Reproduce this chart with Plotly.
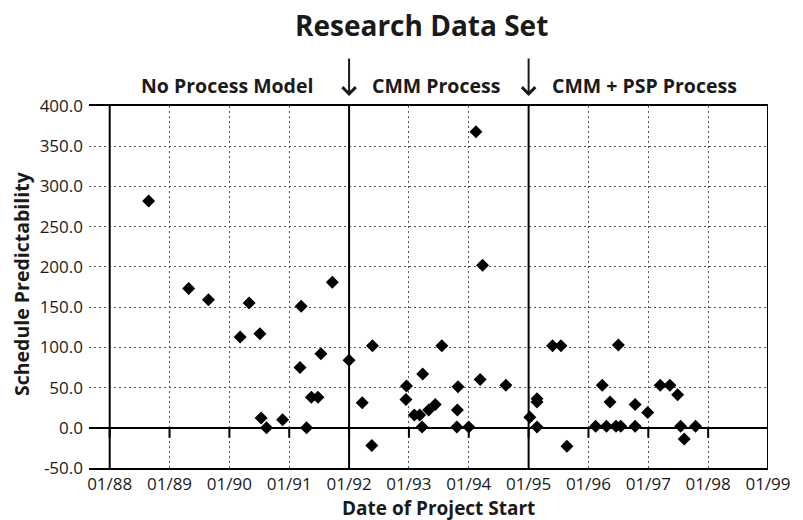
import plotly.graph_objects as go

# ---------------- data ----------------
no_process_x = [1988.65, 1989.32, 1989.65, 1990.18, 1990.33, 1990.51, 1990.53, 1990.62,
                1990.89, 1991.20, 1991.18, 1991.29, 1991.37, 1991.48, 1991.53, 1991.72]
no_process_y = [282, 173, 159, 113, 155, 117, 12, 0, 10, 151, 75, 0, 38, 38, 92, 181]

cmm_x = [1992.00, 1992.22, 1992.39, 1992.38, 1992.96, 1992.95, 1993.09, 1993.18, 1993.22,
         1993.23, 1993.33, 1993.44, 1993.55, 1993.81, 1993.82, 1993.80, 1994.00, 1994.12,
         1994.19, 1994.23, 1994.62]
cmm_y = [84, 31, 102, -22, 52, 35, 16, 16, 1, 67, 22, 29, 102, 22, 51, 1, 1, 368, 60, 202, 53]

psp_x = [1995.02, 1995.14, 1995.14, 1995.14, 1995.40, 1995.54, 1995.64, 1996.12, 1996.23,
         1996.30, 1996.36, 1996.46, 1996.50, 1996.54, 1996.78, 1996.78, 1996.99, 1997.20,
         1997.36, 1997.49, 1997.54, 1997.60, 1997.79]
psp_y = [13, 36, 32, 1, 102, 102, -23, 2, 53, 2, 32, 2, 103, 2, 29, 2, 19, 53, 53, 41, 2, -14, 2]

year_ticks = list(range(1988, 2000))
year_labels = ["01/%02d" % (y % 100) for y in year_ticks]
y_ticks = [-50, 0, 50, 100, 150, 200, 250, 300, 350, 400]
y_labels = ["%.1f" % v for v in y_ticks]
phase_bounds = [1992, 1995]
phase_names = ["No Process Model", "CMM Process", "CMM + PSP Process"]

# ---------------- layout helpers ----------------
W, H = 803, 520
L, R, T, B = 89, 778, 106, 468
def px_x(p):
    return (p - L) / (R - L)
def px_y(p):
    return (B - p) / (B - T)

FONT = "Open Sans"
INK = "#1a1a1a"

fig = go.Figure()
for xs, ys in [(no_process_x, no_process_y), (cmm_x, cmm_y), (psp_x, psp_y)]:
    fig.add_trace(go.Scatter(
        x=xs, y=ys, mode="markers",
        marker=dict(symbol="diamond", size=10, color="black", line=dict(width=0)),
        showlegend=False, hoverinfo="x+y"))

shapes = []
# solid vertical lines: axis start, phase boundaries, right end
for xv in [year_ticks[0]] + phase_bounds + [year_ticks[-1]]:
    shapes.append(dict(type="line", xref="x", yref="paper", x0=xv, x1=xv, y0=0, y1=1,
                       line=dict(color="black", width=2), layer="above"))
# tick marks hanging below the zero line
for xv in year_ticks:
    shapes.append(dict(type="line", xref="x", yref="y", ysizemode="pixel", yanchor=0,
                       x0=xv, x1=xv, y0=0, y1=-10,
                       line=dict(color="black", width=2), layer="above"))

annotations = []
annotations.append(dict(text="Research Data Set", xref="paper", yref="paper",
                        x=px_x(426), y=px_y(25), showarrow=False,
                        xanchor="center", yanchor="middle",
                        font=dict(family=FONT, size=28, color=INK, weight="bold")))
label_centers = [229, 441, 653]
for name, cx in zip(phase_names, label_centers):
    annotations.append(dict(text=name, xref="paper", yref="paper",
                            x=px_x(cx), y=px_y(86), showarrow=False,
                            xanchor="center", yanchor="middle",
                            font=dict(family=FONT, size=19.5, color=INK, weight="bold")))
for xv in phase_bounds:
    annotations.append(dict(text="", x=xv, xref="x", yref="paper", y=px_y(96),
                            ax=0, ay=-39, showarrow=True, arrowhead=4,
                            arrowsize=1.3, arrowwidth=2, arrowcolor=INK))
annotations.append(dict(text="Schedule Predictability", xref="paper", yref="paper",
                        x=px_x(20), y=px_y(284), showarrow=False, textangle=-90,
                        xanchor="center", yanchor="middle",
                        font=dict(family=FONT, size=19.5, color=INK, weight="bold")))
annotations.append(dict(text="Date of Project Start", xref="paper", yref="paper",
                        x=px_x(444), y=px_y(508), showarrow=False,
                        xanchor="center", yanchor="middle",
                        font=dict(family=FONT, size=19, color=INK, weight="bold")))

fig.update_layout(
    width=W, height=H,
    margin=dict(l=L, r=W - R, t=T, b=H - B, pad=0),
    paper_bgcolor="white", plot_bgcolor="white",
    shapes=shapes, annotations=annotations,
    xaxis=dict(range=[year_ticks[0] - 21 / 60.72, year_ticks[-1]],
               tickmode="array", tickvals=year_ticks, ticktext=year_labels,
               showgrid=True, gridcolor="#555", gridwidth=1, griddash="2px,3px",
               showline=True, mirror=True, linecolor="black", linewidth=2,
               zeroline=False, ticks="", ticklabelstandoff=0,
               tickfont=dict(family=FONT, size=17, color=INK), fixedrange=True),
    yaxis=dict(range=[-50, 400], tickmode="array", tickvals=y_ticks, ticktext=y_labels,
               showgrid=True, gridcolor="#555", gridwidth=1, griddash="2px,3px",
               showline=False, zeroline=True, zerolinecolor="black", zerolinewidth=2,
               ticks="", ticklabelstandoff=5,
               tickfont=dict(family=FONT, size=17, color=INK), fixedrange=True),
)

fig.write_html("out.html", config={"displayModeBar": False},
               post_script="document.body.style.margin='0';")
